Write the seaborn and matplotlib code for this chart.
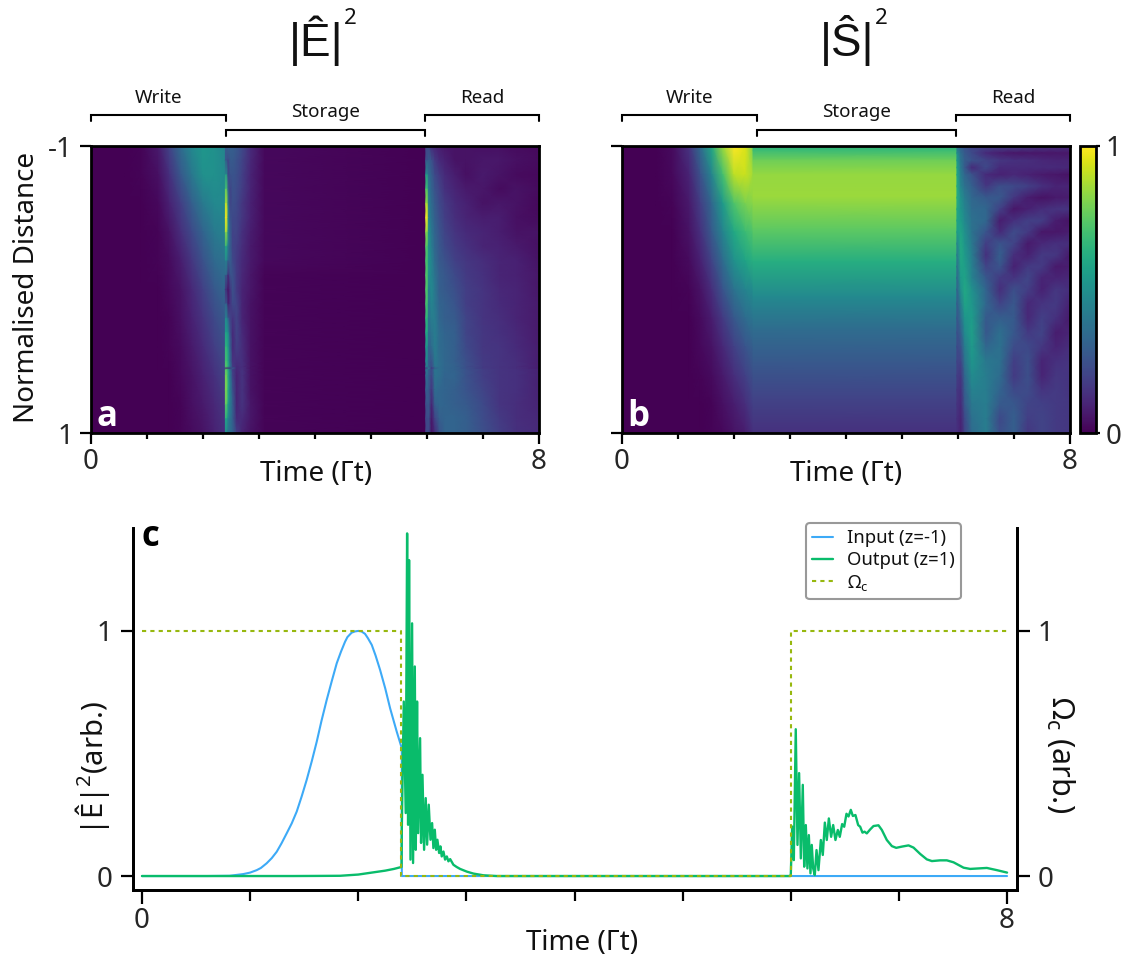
import numpy as np
import pandas as pd
import matplotlib
matplotlib.use("Agg")
import matplotlib.pyplot as plt
import seaborn as sns
from matplotlib.cm import ScalarMappable
from matplotlib.colors import Normalize
from matplotlib.lines import Line2D

# ---------- panel c series ----------
input_t = [0, 0.6, 0.81, 0.937, 1.0, 1.061, 1.1, 1.153, 1.2, 1.246, 1.29, 1.338, 1.385, 1.431, 1.477, 1.523, 1.57,
           1.616, 1.66, 1.708, 1.755, 1.801, 1.84, 1.878, 1.90, 1.939, 1.97, 2.0, 2.03, 2.063, 2.09, 2.125, 2.16,
           2.202, 2.25, 2.295, 2.356, 2.403, 2.403, 8.0]
input_v = [0, 0, 0.001, 0.008, 0.014, 0.024, 0.033, 0.052, 0.073, 0.099, 0.133, 0.174, 0.215, 0.263, 0.325, 0.392, 0.468,
           0.548, 0.633, 0.718, 0.795, 0.868, 0.915, 0.956, 0.975, 0.993, 0.998, 1.0, 0.998, 0.988, 0.97, 0.943, 0.90,
           0.841, 0.765, 0.684, 0.589, 0.521, 0, 0]
output_t = [0, 1.4, 1.6, 1.832, 2.0, 2.14, 2.25, 2.33, 2.4, 2.403, 2.421, 2.439, 2.452, 2.461, 2.470, 2.483, 2.498, 2.507, 2.523, 2.532,
            2.544, 2.554, 2.572, 2.581, 2.594, 2.609, 2.624, 2.637, 2.652, 2.668, 2.683, 2.695, 2.708, 2.720,
            2.732, 2.748, 2.760, 2.772, 2.788, 2.803, 2.819, 2.834, 2.850, 2.880, 2.91, 2.942, 3.004, 3.065, 3.158,
            3.281, 5.995,
            6.000, 6.013, 6.028, 6.046, 6.062, 6.077, 6.093, 6.111, 6.124, 6.139, 6.154, 6.167, 6.182, 6.194,
            6.207, 6.222, 6.238, 6.256, 6.278, 6.296, 6.315, 6.333, 6.352, 6.373, 6.392, 6.413, 6.435, 6.453,
            6.475, 6.494, 6.515, 6.534, 6.555, 6.574, 6.598, 6.623, 6.642, 6.663, 6.682, 6.703, 6.734, 6.765,
            6.811, 6.842, 6.888, 6.935, 6.975, 7.027, 7.089, 7.135, 7.197, 7.258, 7.305, 7.382, 7.443, 7.505,
            7.598, 7.659, 7.813, 7.906, 8.0]
output_v = [0, 0, 0.0004, 0.001, 0.006, 0.015, 0.022, 0.029, 0.037, 0.2, 0.712, 0.257, 1.398, 0.209, 1.289, 0.067, 1.031, 0.053, 0.855, 0.107,
            0.712, 0.175, 0.5625, 0.135, 0.413, 0.107, 0.318, 0.128, 0.291, 0.148, 0.216, 0.114, 0.189, 0.107,
            0.148, 0.094, 0.121, 0.08, 0.10, 0.067, 0.08, 0.06, 0.069, 0.046, 0.037, 0.029, 0.018, 0.01, 0.003,
            0, 0,
            0.004, 0.202, 0.065, 0.599, 0.127, 0.420, 0.072, 0.372, 0.038, 0.208, 0.031, 0.167, 0.011, 0.127,
            0.031, 0.004, 0.106, 0.024, 0.147, 0.086, 0.218, 0.147, 0.235, 0.160, 0.208, 0.147, 0.188, 0.160,
            0.212, 0.201, 0.254, 0.243, 0.270, 0.245, 0.249, 0.208, 0.201, 0.177, 0.181, 0.174, 0.190, 0.204,
            0.207, 0.188, 0.147, 0.122, 0.115, 0.120, 0.125, 0.116, 0.090, 0.068, 0.061, 0.064, 0.064, 0.056,
            0.034, 0.029, 0.033, 0.024, 0.014]
omega_t = [0, 2.4, 2.4, 6, 6, 8]
omega_v = [1, 1, 0, 0, 1, 1]

# ---------- heat map grids ----------
E_write_t = [0, 0.6, 0.9, 1.2, 1.4, 1.6, 1.8, 2.0, 2.2, 2.4]
S_write_t = [0, 0.6, 0.9, 1.2, 1.4, 1.6, 1.8, 2.0, 2.2, 2.34]
write_z = [-1, -0.8, -0.6, -0.4, -0.2, 0, 0.2, 0.4, 0.6, 0.8, 1]
E_write = [
    [0, 0, .01, .07, .20, .35, .47, .53, .50, .45],
    [0, 0, .01, .04, .14, .27, .40, .50, .50, .47],
    [0, 0, 0, .02, .09, .18, .30, .41, .47, .47],
    [0, 0, 0, .01, .05, .13, .22, .32, .41, .44],
    [0, 0, 0, .01, .03, .08, .16, .25, .34, .38],
    [0, 0, 0, 0, .02, .05, .11, .19, .27, .33],
    [0, 0, 0, 0, .01, .04, .09, .15, .22, .28],
    [0, 0, 0, 0, .01, .03, .07, .12, .18, .24],
    [0, 0, 0, 0, 0, .02, .05, .09, .14, .20],
    [0, 0, 0, 0, 0, .01, .04, .07, .11, .16],
    [0, 0, 0, 0, 0, .01, .03, .05, .09, .14],
]
S_write = [
    [0, 0, .03, .15, .35, .60, .85, 1.0, .95, .80],
    [0, 0, .02, .10, .25, .45, .70, .90, .92, .86],
    [0, 0, .01, .07, .18, .33, .54, .72, .80, .82],
    [0, 0, 0, .05, .14, .28, .45, .60, .68, .72],
    [0, 0, 0, .03, .09, .20, .35, .50, .58, .63],
    [0, 0, 0, .01, .05, .13, .26, .38, .45, .48],
    [0, 0, 0, 0, .03, .08, .17, .27, .35, .39],
    [0, 0, 0, 0, .02, .05, .11, .19, .26, .30],
    [0, 0, 0, 0, .01, .03, .07, .13, .19, .24],
    [0, 0, 0, 0, 0, .01, .04, .08, .13, .19],
    [0, 0, 0, 0, 0, .01, .02, .05, .08, .14],
]

fine_z = [-1, -.9, -.8, -.7, -.6, -.5, -.4, -.3, -.2, -.1, 0, .1, .2, .3, .4, .5, .54, .55, .56, .6, .7, .8, .9, 1]
E_store_t = [2.4, 2.425, 2.45, 2.485, 2.53, 2.6, 2.7, 2.85, 3.1, 6.0]
E_store = [
    [.30, .30, .35, .30, .30, .27, .22, .12, .02, 0],
    [.25, .25, .20, .28, .28, .25, .20, .11, .02, 0],
    [.50, .50, .20, .25, .26, .24, .19, .10, .02, 0],
    [.72, .72, .30, .20, .25, .23, .18, .10, .02, 0],
    [.88, .88, .40, .20, .24, .22, .16, .09, .02, 0],
    [.98, .98, .45, .25, .22, .21, .16, .09, .02, 0],
    [.85, .85, .45, .30, .20, .20, .14, .08, .02, 0],
    [.60, .60, .40, .30, .20, .18, .13, .07, .02, 0],
    [.45, .45, .32, .30, .22, .17, .12, .07, .02, 0],
    [.30, .30, .12, .25, .25, .17, .11, .06, .01, 0],
    [.12, .12, .05, .15, .25, .17, .10, .06, .01, 0],
    [.28, .28, .08, .15, .22, .20, .10, .05, .01, 0],
    [.45, .45, .30, .20, .15, .20, .10, .05, .01, 0],
    [.55, .55, .50, .25, .12, .20, .12, .05, .01, 0],
    [.65, .65, .55, .32, .12, .18, .13, .05, .01, 0],
    [.70, .70, .60, .35, .15, .14, .14, .05, .01, 0],
    [.73, .73, .61, .37, .17, .12, .14, .05, .01, 0],
    [.10, .10, .10, .15, .30, .12, .14, .05, .01, 0],
    [.73, .73, .61, .38, .18, .11, .15, .05, .01, 0],
    [.78, .78, .62, .40, .20, .10, .15, .05, .01, 0],
    [.80, .80, .62, .42, .25, .10, .15, .05, .01, 0],
    [.75, .75, .55, .42, .30, .10, .15, .06, .01, 0],
    [.60, .60, .45, .38, .30, .12, .12, .06, .01, 0],
    [.45, .45, .35, .35, .32, .18, .10, .05, .01, 0],
]
E_read_t = [5.98, 6.005, 6.03, 6.08, 6.14, 6.22, 6.32, 6.5, 6.7, 7, 7.3, 7.6, 8]
E_read = [
    [.20, .20, .20, .12, .10, .08, .06, .05, .05, .04, .04, .03, .02],
    [.25, .25, .30, .25, .17, .12, .09, .05, .05, .06, .06, .04, .03],
    [.50, .50, .35, .30, .22, .17, .12, .08, .04, .07, .05, .03, .02],
    [.70, .70, .40, .32, .25, .20, .14, .10, .07, .06, .03, .05, .03],
    [.85, .85, .42, .35, .28, .22, .17, .12, .09, .05, .06, .05, .02],
    [1.0, 1.0, .45, .37, .30, .24, .18, .13, .10, .08, .08, .04, .03],
    [.82, .82, .50, .40, .32, .26, .20, .15, .12, .10, .08, .05, .05],
    [.72, .72, .50, .42, .33, .27, .22, .17, .14, .10, .09, .07, .04],
    [.70, .70, .52, .45, .35, .28, .25, .19, .16, .13, .10, .09, .05],
    [.72, .72, .50, .45, .38, .30, .27, .22, .17, .14, .10, .09, .06],
    [.72, .72, .42, .47, .40, .30, .28, .24, .18, .15, .11, .10, .06],
    [.70, .70, .40, .45, .40, .32, .30, .26, .18, .15, .12, .10, .07],
    [.65, .65, .38, .42, .42, .33, .30, .28, .20, .15, .13, .10, .07],
    [.60, .60, .35, .38, .42, .35, .32, .30, .20, .16, .14, .11, .07],
    [.50, .50, .30, .35, .42, .35, .33, .30, .22, .16, .15, .12, .08],
    [.45, .45, .30, .25, .40, .36, .33, .30, .24, .17, .15, .13, .08],
    [.42, .42, .30, .23, .39, .36, .33, .31, .24, .17, .15, .13, .08],
    [.20, .20, .45, .15, .30, .36, .33, .31, .24, .17, .15, .13, .08],
    [.40, .40, .30, .22, .39, .36, .33, .31, .25, .18, .15, .14, .09],
    [.35, .35, .30, .20, .38, .36, .32, .32, .25, .18, .15, .14, .09],
    [.30, .30, .28, .15, .35, .33, .32, .30, .26, .20, .15, .14, .09],
    [.25, .25, .28, .10, .30, .33, .32, .30, .28, .22, .15, .13, .10],
    [.22, .22, .25, .06, .20, .30, .32, .32, .30, .23, .17, .13, .11],
    [.20, .20, .22, .05, .12, .25, .32, .32, .30, .24, .18, .14, .12],
]
S_store_t = [2.34, 6.0]
S_store_z = [-1, -.97, -.9, -.8, -.65, -.42, -.19, .05, .28, .51, .75, 1]
S_store_v = [.65, .68, .78, .84, .85, .75, .62, .47, .35, .27, .20, .14]
S_read_t = [5.98, 6.05, 6.12, 6.25, 6.5, 6.75, 7, 7.25, 7.5, 7.75, 8]
S_read_z = [-1, -.95, -.9, -.85, -.8, -.72, -.64, -.56, -.48, -.4, -.32, -.24, -.16, -.08, 0,
            .1, .2, .3, .4, .5, .6, .7, .8, .9, 1]
S_read = [
    [.35, .30, .25, .20, .20, .20, .20, .18, .16, .15, .14],
    [.50, .35, .28, .22, .12, .08, .06, .06, .06, .06, .06],
    [.55, .38, .30, .25, .20, .16, .14, .13, .11, .10, .10],
    [.58, .40, .28, .12, .22, .12, .12, .12, .12, .12, .11],
    [.60, .42, .33, .25, .12, .09, .11, .09, .07, .06, .05],
    [.62, .45, .37, .30, .16, .24, .22, .19, .14, .10, .10],
    [.63, .50, .42, .33, .28, .27, .16, .08, .05, .07, .08],
    [.60, .52, .45, .35, .33, .19, .06, .09, .13, .15, .15],
    [.58, .55, .47, .37, .33, .08, .14, .19, .18, .08, .05],
    [.55, .58, .50, .38, .26, .12, .23, .17, .06, .06, .08],
    [.45, .60, .52, .40, .18, .26, .20, .07, .11, .14, .13],
    [.40, .60, .54, .42, .14, .30, .13, .09, .17, .16, .07],
    [.35, .58, .56, .43, .20, .26, .09, .17, .17, .07, .08],
    [.32, .55, .58, .44, .27, .17, .15, .21, .10, .10, .11],
    [.30, .50, .60, .50, .32, .13, .24, .18, .09, .16, .13],
    [.28, .42, .58, .53, .33, .20, .27, .11, .15, .17, .09],
    [.26, .36, .52, .55, .28, .30, .28, .11, .19, .14, .07],
    [.24, .30, .48, .56, .27, .36, .27, .17, .20, .08, .10],
    [.22, .25, .42, .54, .33, .37, .23, .22, .16, .10, .13],
    [.20, .20, .38, .52, .40, .37, .18, .24, .10, .14, .15],
    [.18, .16, .33, .48, .42, .35, .17, .24, .10, .16, .15],
    [.16, .14, .30, .44, .42, .32, .22, .23, .15, .17, .15],
    [.15, .12, .27, .40, .42, .28, .27, .20, .19, .17, .16],
    [.14, .10, .22, .37, .42, .22, .30, .18, .20, .17, .16],
    [.14, .09, .20, .35, .42, .24, .30, .16, .20, .17, .16],
]

phase_names = ["Write", "Storage", "Read"]
phase_start = [0, 2.41, 5.96]
phase_end = [2.41, 5.96, 8]

# ---------- styling ----------
W, H = 1130, 963
sns.set_theme(style="ticks")
plt.rcParams["font.family"] = ["Noto Sans", "DejaVu Sans"]
plt.rcParams["mathtext.fontset"] = "custom"
plt.rcParams["mathtext.rm"] = "Noto Sans"
plt.rcParams["mathtext.it"] = "Noto Sans"
plt.rcParams["mathtext.default"] = "rm"
plt.rcParams["text.color"] = "#111111"
cmap = sns.color_palette("viridis", as_cmap=True)
C_IN, C_OUT, C_OM = "#3DAAF7", "#09BC6B", "#97B80F"
SPINE = 2.0
FS = 20


def axes_px(x0, y0, x1, y1):
    return fig.add_axes([x0 / W, 1 - y1 / H, (x1 - x0) / W, (y1 - y0) / H])


def txt(x, y, s, **kw):
    kw.setdefault("ha", "center")
    kw.setdefault("va", "center")
    return fig.text(x / W, 1 - y / H, s, **kw)


fig = plt.figure(figsize=(W / 100, H / 100), dpi=100, facecolor="white")


def bold_letter(ax, x, y, s, color):
    ax.text(x, y, s, transform=ax.transAxes, color=color, fontsize=25, family="Open Sans",
            fontweight="bold", ha="center", va="center", zorder=6)


def heat(ax, blocks, letter, ylab):
    for t, z, v in blocks:
        ax.pcolormesh(t, z, np.asarray(v, float), cmap=cmap, vmin=0, vmax=1,
                      shading="gouraud", rasterized=True)
    ax.set_xlim(0, 8)
    ax.set_ylim(1, -1)
    ax.set_xticks([0, 8])
    ax.set_xticklabels(["0", "8"], fontsize=FS)
    ax.set_xticks(range(1, 8), minor=True)
    ax.set_yticks([-1, 1])
    ax.set_yticklabels(["-1", "1"] if ylab else ["", ""], fontsize=FS)
    ax.tick_params(axis="y", which="major", length=8, width=1.6, pad=5, color="black")
    ax.tick_params(axis="x", which="major", length=8, width=1.6, pad=3, color="black")
    ax.tick_params(axis="x", which="minor", length=4.5, width=1.6, color="black")
    for s in ax.spines.values():
        s.set_linewidth(SPINE)
        s.set_color("black")
        s.set_visible(True)
    tr = ax.get_xaxis_transform()
    for i, (a, b) in enumerate(zip(phase_start, phase_end)):
        top = 1.109 if i != 1 else 1.055
        foot = 1.088 if i != 1 else 1.034
        ax.add_line(Line2D([a, a, b, b], [foot, top, top, foot], transform=tr, clip_on=False,
                           color="black", lw=1.5, solid_joinstyle="miter"))
        ax.text((a + b) / 2, 1.167 if i != 1 else 1.118, phase_names[i], transform=tr,
                ha="center", va="center", fontsize=13.5)
    bold_letter(ax, 0.036, 0.055, letter, "white")


ax_a = axes_px(91, 146, 539, 433)
heat(ax_a, [(E_write_t, write_z, E_write), (E_store_t, fine_z, E_store), (E_read_t, fine_z, E_read)], "a", True)
ax_b = axes_px(622, 146, 1070, 433)
S_store_grid = np.column_stack([S_store_v, S_store_v])
heat(ax_b, [(S_write_t, write_z, S_write), (S_store_t, S_store_z, S_store_grid), (S_read_t, S_read_z, S_read)], "b", False)

# colour bar
cax = axes_px(1080, 146, 1096, 433)
cb = fig.colorbar(ScalarMappable(Normalize(0, 1), cmap), cax=cax)
cb.set_ticks([0, 1])
cb.set_ticklabels(["0", "1"], fontsize=FS)
cb.ax.tick_params(length=3, width=1.6, pad=4, color="black")
cb.outline.set_linewidth(SPINE)
cb.outline.set_edgecolor("black")

txt(316, 474, "Time (Γt)", fontsize=FS)
txt(846, 474, "Time (Γt)", fontsize=FS)
txt(27, 287, "Normalised Distance", rotation=90, fontsize=FS)

txt(316, 41, "|Ê|", fontsize=33, family="Liberation Sans")
txt(350, 18, "2", fontsize=16)
txt(847, 41, "|Ŝ|", fontsize=33, family="Liberation Sans")
txt(881, 18, "2", fontsize=16)

# panel c
ax = axes_px(133, 528, 1017, 890)
ax2 = ax.twinx()
df_in = pd.DataFrame({"t": input_t, "v": input_v})
df_out = pd.DataFrame({"t": output_t, "v": output_v})
df_om = pd.DataFrame({"t": omega_t, "v": omega_v})
sns.lineplot(data=df_in, x="t", y="v", ax=ax, estimator=None, sort=False, color=C_IN, lw=1.5, label="Input (z=-1)", legend=False)
sns.lineplot(data=df_out, x="t", y="v", ax=ax, estimator=None, sort=False, color=C_OUT, lw=1.7, label="Output (z=1)", legend=False)
sns.lineplot(data=df_om, x="t", y="v", ax=ax2, estimator=None, sort=False, color=C_OM, lw=1.5, label="Ω$_c$", legend=False, dashes=False)
om_line = ax2.get_lines()[0]
om_line.set_linestyle((0, (2, 2)))
for a in (ax, ax2):
    a.set_xlim(-0.083, 8.092)
    a.set_ylim(-0.057, 1.42)
    a.set_xlabel("")
    a.set_ylabel("")
    a.set_yticks([0, 1])
    a.set_yticklabels(["0", "1"], fontsize=FS)
    a.tick_params(axis="y", length=9, width=1.6, pad=6, color="black")
    a.spines["top"].set_visible(False)
    for k in ("left", "right", "bottom"):
        a.spines[k].set_linewidth(SPINE)
        a.spines[k].set_color("black")
        a.spines[k].set_visible(True)
ax.set_xticks([0, 8])
ax.set_xticklabels(["0", "8"], fontsize=FS)
ax.set_xticks(range(1, 8), minor=True)
ax.tick_params(axis="x", which="major", length=10, width=1.6, pad=2, color="black")
ax.tick_params(axis="x", which="minor", length=8, width=1.6, color="black")
ax2.tick_params(axis="y", labelright=True)

h = ax.get_lines()[:2] + [om_line]
leg = ax2.legend(h, [l.get_label() for l in h], loc="upper left", fontsize=13.3,
                 bbox_to_anchor=((806 - 133) / 884, (890 - 523) / 362), borderaxespad=0,
                 frameon=True, fancybox=True, edgecolor="#999999", framealpha=1,
                 handlelength=1.1, handletextpad=0.75, labelspacing=0.2, borderpad=0.35)
leg.get_frame().set_linewidth(1.5)

bold_letter(ax, 0.02, 0.975, "c", "black")
txt(582, 943, "Time (Γt)", fontsize=FS)
txt(92, 768, "|Ê|$^{2}$(arb.)", rotation=90, fontsize=21)
txt(1060, 755, "Ω$_{c}$ (arb.)", rotation=270, fontsize=22)

fig.savefig("out.png", dpi=100, facecolor="white")
